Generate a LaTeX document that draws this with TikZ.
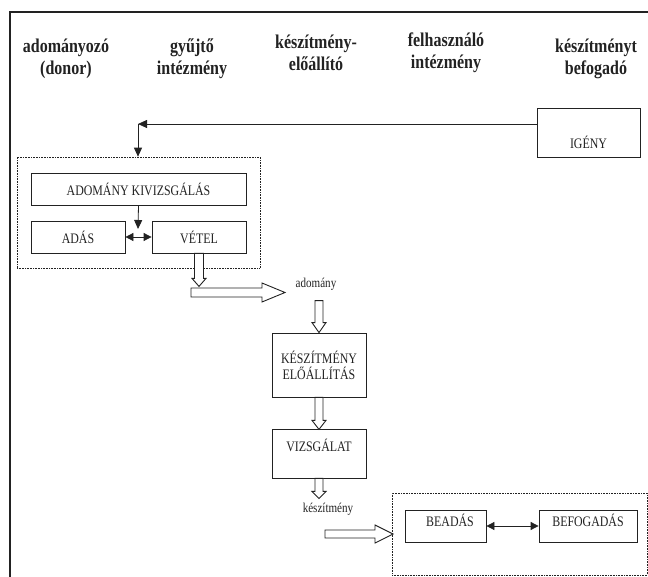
\documentclass[tikz,border=0pt]{standalone}
\usepackage{fontspec}
\setmainfont{Liberation Serif}
\newfontfamily\condfont[FakeStretch=0.82]{Liberation Serif}
\usetikzlibrary{calc,arrows.meta}
\definecolor{ink}{HTML}{222222}
\tikzset{
  head/.style={font=\condfont\fontsize{19.5}{22}\selectfont\bfseries, align=center, text=ink},
  box/.style={draw=ink, line width=0.8pt, inner sep=0pt},
  txt/.style={font=\condfont\fontsize{14.5}{16}\selectfont, text=ink, align=center},
  note/.style={font=\condfont\fontsize{13.5}{15}\selectfont, text=ink},
  group/.style={draw=ink, line width=0.6pt, densely dotted, inner sep=0pt},
  link/.style={draw=ink, line width=0.8pt, -{Triangle[length=9pt,width=8pt]}},
  both/.style={draw=ink, line width=0.8pt, {Triangle[length=8pt,width=8pt]}-{Triangle[length=8pt,width=8pt]}},
  hollow/.style={draw=ink, line width=0.9pt, fill=white, line join=miter},
}

\begin{document}
\begin{tikzpicture}[x=1pt,y=-1pt]
  \useasboundingbox (0,0) rectangle (648,577);
  \draw[ink, line width=1.5pt] (10,577) -- (10,12) -- (648,12);

  % column heads
  \node[head] (donor) at (66,59) {adományozó\\(donor)};
  \node[head] (gyujto) at (192,59) {gyűjtő\\intézmény};
  \node[head] (eloallito) at (316,53) {készítmény-\\előállító};
  \node[head] (felhasznalo) at (446,53) {felhasználó\\intézmény};
  \node[head] (befogado) at (596,59) {készítményt\\befogadó};

  % request
  \node[box, minimum width=103pt, minimum height=49pt] (igeny) at (588.5,132.5) {};
  \node[txt] (igenytxt) at ([yshift=-10pt]igeny.center) {IGÉNY};
  \coordinate (turn) at (138,124);
  \draw[link] (igeny.west |- turn) -- (turn);

  % donation group
  \node[group, minimum width=243pt, minimum height=111pt] (gyujtes) at (138.5,212.5) {};
  \draw[link] (turn) -- (turn |- gyujtes.north);
  \node[box, txt, minimum width=215pt, minimum height=32pt] (kivizsg) at (138.5,189) {ADOMÁNY KIVIZSGÁLÁS};
  \node[box, txt, minimum width=94pt, minimum height=32pt] (adas) at (78,237) {ADÁS};
  \node[box, txt, minimum width=94pt, minimum height=32pt] (vetel) at (199,237) {VÉTEL};
  \coordinate (gap) at (138,229);
  \draw[link] (kivizsg.south) -- (gap);
  \draw[both] (adas.east) -- (vetel.west);

  % donation to manufacturer
  \draw[hollow] ($(vetel.south)+(-4.5,0)$) -- ++(0,25) -- ++(-2.5,0) -- ++(7,8) -- ++(7,-8) -- ++(-2.5,0) -- ++(0,-25) -- cycle;
  \draw[hollow] (191,288) -- (262,288) -- (262,283) -- (285,292.5) -- (262,302) -- (262,297) -- (191,297) -- cycle;
  \node[note] (adomany) at (316,284) {adomány};

  % manufacturing
  \node[box, txt, minimum width=94pt, minimum height=64pt] (elo) at (319,365) {KÉSZÍTMÉNY\\ELŐÁLLÍTÁS};
  \draw[hollow] ($(elo.north)+(-4,-32)$) -- ++(0,22) -- ++(-3,0) -- ++(7,10) -- ++(7,-10) -- ++(-3,0) -- ++(0,-22) -- cycle;
  \node[box, minimum width=94pt, minimum height=49pt] (vizsgalat) at (319,453.5) {};
  \node[txt] (vizsgtxt) at ([yshift=8.5pt]vizsgalat.center) {VIZSGÁLAT};
  \draw[hollow] ($(elo.south)+(-4,0)$) -- ++(0,23) -- ++(-3,0) -- ++(7,9) -- ++(7,-9) -- ++(-3,0) -- ++(0,-23) -- cycle;
  \draw[hollow] ($(vizsgalat.south)+(-4,0)$) -- ++(0,13) -- ++(-3,0) -- ++(7,7) -- ++(7,-7) -- ++(-3,0) -- ++(0,-13) -- cycle;
  \node[note] (keszitmeny) at (328,509) {készítmény};

  % user institution group
  \node[group, minimum width=255pt, minimum height=82pt] (felhasz) at (519.5,534) {};
  \draw[hollow] (325,530) -- (375,530) -- (375,525) -- (393,534) -- (375,543) -- (375,538) -- (325,538) -- cycle;
  \node[box, minimum width=81pt, minimum height=32pt] (beadas) at (445.5,526) {};
  \node[txt] (beadastxt) at ([xshift=4.5pt,yshift=6pt]beadas.center) {BEADÁS};
  \node[box, minimum width=98pt, minimum height=32pt] (befogadas) at (588,526) {};
  \node[txt] (befogtxt) at ([yshift=6pt]befogadas.center) {BEFOGADÁS};
  \draw[both] (beadas.east) -- (befogadas.west);
\end{tikzpicture}
\end{document}
